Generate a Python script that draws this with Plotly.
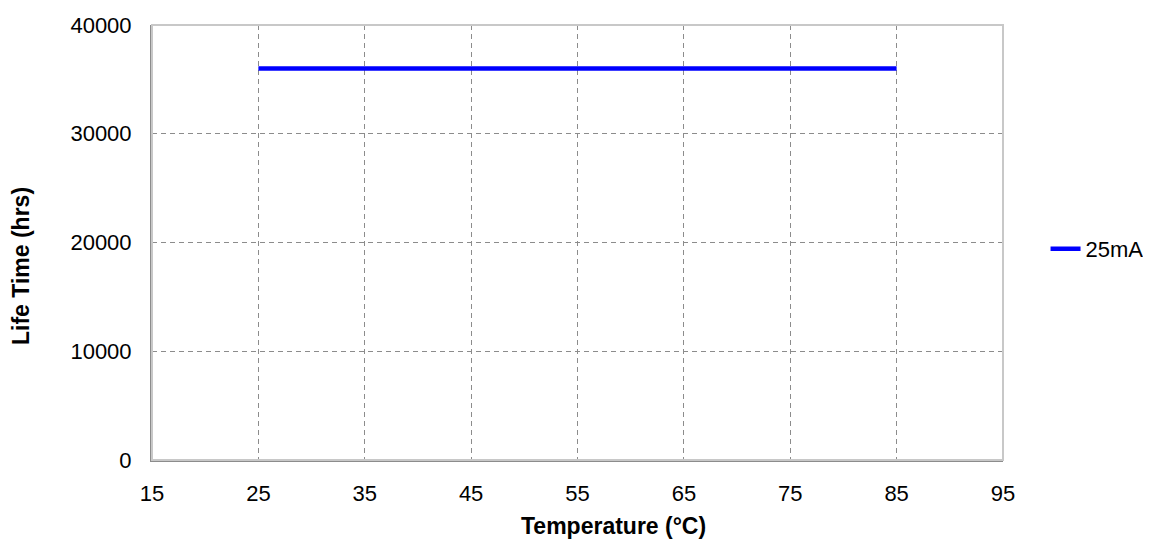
import plotly.graph_objects as go

temperature = [25, 85]
life_time_25mA = [36000, 36000]
series_name = "25mA"
x_ticks = [15, 25, 35, 45, 55, 65, 75, 85, 95]
y_ticks = [0, 10000, 20000, 30000, 40000]

FONT = "Arial, 'Liberation Sans', sans-serif"

fig = go.Figure()
fig.add_trace(go.Scatter(
    x=temperature, y=life_time_25mA, mode="lines", name=series_name,
    line=dict(color="#0000FF", width=4.5),
))

# page body has an 8px margin, so the figure is shrunk by 8px on each axis
fig.update_layout(
    width=1143, height=548,
    margin=dict(l=144, r=148, t=17, b=96, autoexpand=False),
    paper_bgcolor="white", plot_bgcolor="white",
    font=dict(family=FONT, size=22, color="#000"),
    showlegend=True,
    legend=dict(x=1.05, y=0.485, xanchor="left", yanchor="middle",
                bgcolor="rgba(0,0,0,0)", font=dict(size=22)),
    xaxis=dict(range=[15, 95], tickvals=x_ticks, showgrid=True, automargin=False,
               gridcolor="#8c8c8c", griddash="5px,4px", gridwidth=1,
               showline=True, linecolor="#8c8c8c", linewidth=2,
               zeroline=False, ticks="", ticklabelstandoff=13),
    yaxis=dict(range=[0, 40000], tickvals=y_ticks, tickformat="d", showgrid=True,
               automargin=False,
               gridcolor="#8c8c8c", griddash="5px,4px", gridwidth=1,
               showline=True, linecolor="#8c8c8c", linewidth=2,
               zeroline=False, ticks="", ticklabelstandoff=14),
    shapes=[dict(type="rect", xref="paper", yref="paper", x0=0, x1=1, y0=0, y1=1,
                 line=dict(color="#c8c8c8", width=2), layer="above")],
    annotations=[
        dict(text="<b>Temperature (°C)</b>", xref="paper", yref="paper",
             x=(613 - 152) / 851, y=-(526 - 460) / 435, xanchor="center", yanchor="middle",
             showarrow=False, font=dict(size=23)),
        dict(text="<b>Life Time (hrs)</b>", xref="paper", yref="paper",
             x=-(152 - 21) / 851, y=(460 - 266) / 435, xanchor="center", yanchor="middle",
             textangle=-90, showarrow=False, font=dict(size=23)),
    ],
)

fig.write_html("out.html")
